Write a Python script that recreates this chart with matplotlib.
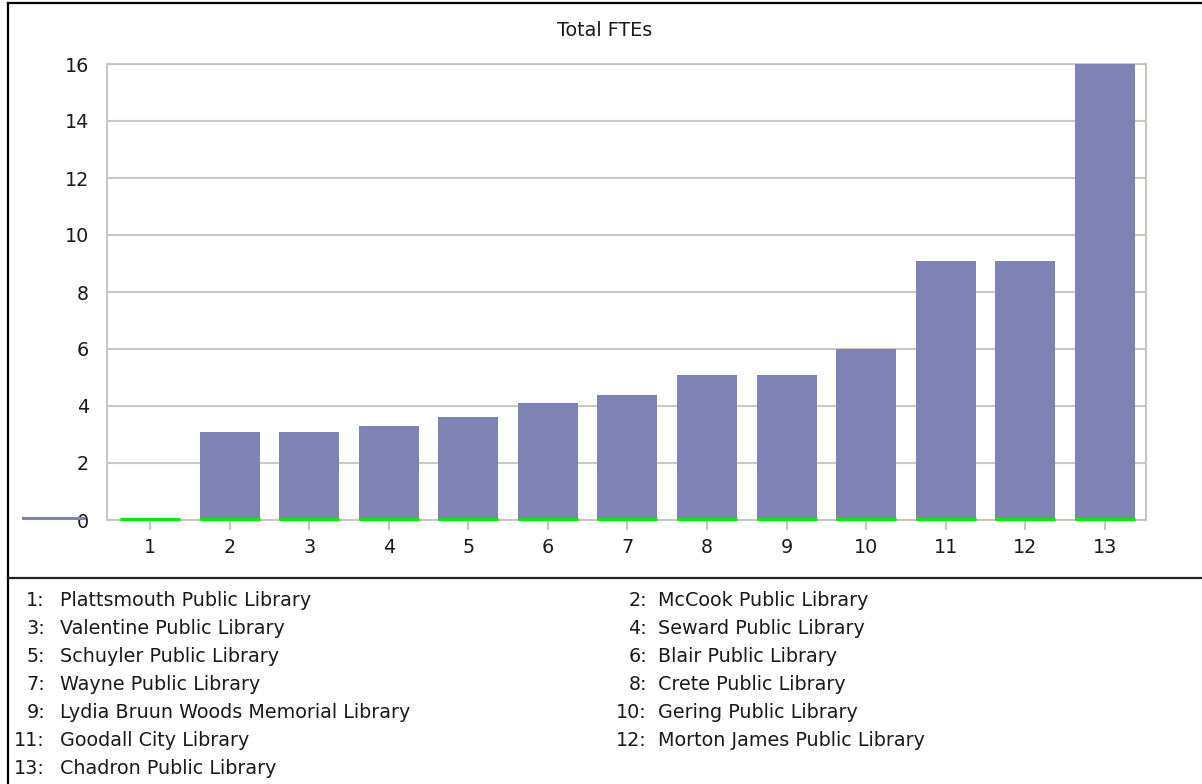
import matplotlib
matplotlib.use("Agg")
import matplotlib.pyplot as plt
from matplotlib.lines import Line2D

# data
positions = [1, 2, 3, 4, 5, 6, 7, 8, 9, 10, 11, 12, 13]
ftes = [0, 3.1, 3.1, 3.3, 3.6, 4.1, 4.4, 5.1, 5.1, 6.0, 9.1, 9.1, 16]
libraries = [
    "Plattsmouth Public Library", "McCook Public Library",
    "Valentine Public Library", "Seward Public Library",
    "Schuyler Public Library", "Blair Public Library",
    "Wayne Public Library", "Crete Public Library",
    "Lydia Bruun Woods Memorial Library", "Gering Public Library",
    "Goodall City Library", "Morton James Public Library",
    "Chadron Public Library",
]
yticks = [0, 2, 4, 6, 8, 10, 12, 14, 16]

W, H = 1202, 784
bar_color = "#7f82b4"
grid_color = "#c8c8c0"
text_color = "#1a1a1a"
fs = 13.8

plt.rcParams['font.family'] = ['DejaVu Sans']

fig = plt.figure(figsize=(W / 100, H / 100), dpi=100)
ax = fig.add_axes([107 / W, 1 - 520 / H, (1146 - 107) / W, (520 - 64) / H])

width = 0.754
ax.bar(positions, ftes, width=width, color=bar_color,
       edgecolor="none", linewidth=0, zorder=3)
ax.hlines([0.05] * len(positions),
          [p - width / 2 for p in positions],
          [p + width / 2 for p in positions],
          colors="#00ee00", linewidth=2.2, zorder=4, clip_on=False)

ax.set_xlim(0.46, 13.515)
ax.set_ylim(0, 16)
ax.set_xticks(positions)
ax.set_xticklabels([str(p) for p in positions])
ax.set_yticks(yticks)
ax.set_yticklabels([str(v) for v in yticks])
ax.yaxis.grid(True, color=grid_color, linewidth=1.5, zorder=0)
ax.set_axisbelow(True)
for s in ax.spines.values():
    s.set_color(grid_color)
    s.set_linewidth(1.5)
    s.set_zorder(2)
ax.tick_params(axis='y', length=0, pad=13, labelsize=fs, labelcolor=text_color)
ax.tick_params(axis='x', length=7, width=1.5, color=grid_color, pad=6,
               labelsize=fs, labelcolor=text_color)

fig.text(605 / W, 1 - 30 / H, "Total FTEs", ha='center', va='center',
         fontsize=fs, color=text_color)

# stray swatch left of the zero label
fig.add_artist(Line2D([23 / W, 84 / W], [1 - 518 / H, 1 - 518 / H],
                      color=bar_color, linewidth=2.2))

# frame and divider
fig.add_artist(Line2D([8 / W, 8 / W], [0, 1 - 3 / H], color="black", linewidth=1.6))
fig.add_artist(Line2D([8 / W, 1], [1 - 3 / H, 1 - 3 / H], color="black", linewidth=1.6))
fig.add_artist(Line2D([8 / W, 1], [1 - 578 / H, 1 - 578 / H], color="#222222", linewidth=1.6))

# numbered key below the chart
for i, name in enumerate(libraries):
    row = i // 2
    col = i % 2
    y = 1 - (600 + 28 * row) / H
    num_x = 45 if col == 0 else 647
    name_x = 60 if col == 0 else 658
    fig.text(num_x / W, y, f"{i + 1}:", ha='right', va='center',
             fontsize=fs, color=text_color)
    fig.text(name_x / W, y, name, ha='left', va='center',
             fontsize=fs, color=text_color)

fig.savefig("out.png", dpi=100)
